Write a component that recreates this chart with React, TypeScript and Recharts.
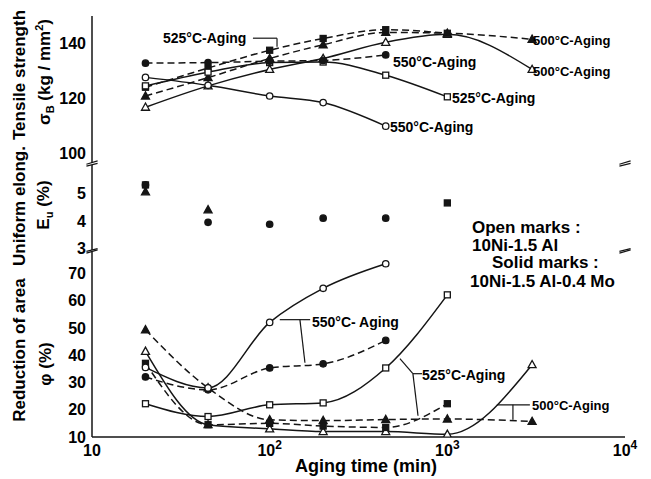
import React from "react";
import { ComposedChart, Line, XAxis, YAxis, ReferenceLine } from "recharts";

// aging time (min)
const times = [20, 45, 100, 200, 450, 1000, 3000];

// tensile strength sigma_B (kg/mm2)
const ts500Solid = [120.8, 127.5, 134.5, 139.5, 144, 143.7, 141.5];
const ts500Open = [116.7, 124.5, 130.5, 134.5, 140.4, 143.3, 130.5];
const ts525Solid = [124, 131, 137.5, 141.8, 145, 143.7, null];
const ts525Open = [124.5, 129.5, 133, 133.2, 128.4, 120.5, null];
const ts550Solid = [132.8, 133, 133.5, 133.8, 135.8, null, null];
const ts550Open = [127.6, 124.7, 120.8, 118.4, 109.8, null, null];

// uniform elongation Eu (%), solid marks only
const eu500Solid = [5.05, 4.4, null, null, null, null, null];
const eu525Solid = [5.3, null, null, null, null, 4.65, null];
const eu550Solid = [5.3, 3.95, 3.88, 4.1, 4.1, null, null];

// reduction of area (%)
const ra500Solid = [49.3, 28, 16.3, 16, 16.4, 16.6, 15.7];
const ra500Open = [41.4, 14.5, 13, 12, 12, 11, 36.5];
const ra525Solid = [37, 14.5, 15, 14, 13.5, 22.2, null];
const ra525Open = [22.2, 17.5, 21.8, 22.5, 35.3, 62.1, null];
const ra550Solid = [32, 27.3, 35.3, 36.8, 45.4, null, null];
const ra550Open = [35.5, 28, 52, 64.5, 73.5, null, null];

// ticks
const xMajor = [10, 100, 1000, 10000];
const xMinor = [20, 30, 40, 50, 60, 70, 80, 90, 200, 300, 400, 500, 600, 700, 800, 900, 2000, 3000, 4000, 5000, 6000, 7000, 8000, 9000];
const tsLabels = [100, 120, 140];
const tsTicks = [100, 110, 120, 130, 140];
const euLabels = [3, 4, 5];
const raLabels = [10, 20, 30, 40, 50, 60, 70];

const W = 651;
const H = 479;
const ink = "#151515";
const font = "'Liberation Sans', Arial, sans-serif";

const tsRows = times.map((t, i) => ({
  t, s500: ts500Solid[i], o500: ts500Open[i], s525: ts525Solid[i],
  o525: ts525Open[i], s550: ts550Solid[i], o550: ts550Open[i],
}));
const euRows = times.map((t, i) => ({
  t, s500: eu500Solid[i], s525: eu525Solid[i], s550: eu550Solid[i],
}));
const raRows = times.map((t, i) => ({
  t, s500: ra500Solid[i], o500: ra500Open[i], s525: ra525Solid[i],
  o525: ra525Open[i], s550: ra550Solid[i], o550: ra550Open[i],
}));

type Shape = "circle" | "square" | "triangle";

const series: { key: string; shape: Shape; filled: boolean }[] = [
  { key: "s500", shape: "triangle", filled: true },
  { key: "o500", shape: "triangle", filled: false },
  { key: "s525", shape: "square", filled: true },
  { key: "o525", shape: "square", filled: false },
  { key: "s550", shape: "circle", filled: true },
  { key: "o550", shape: "circle", filled: false },
];

function Mark({ cx, cy, shape, filled }: { cx: number; cy: number; shape: Shape; filled: boolean }) {
  const p = { fill: filled ? ink : "#fff", stroke: ink, strokeWidth: 1.3 };
  if (shape === "circle") return <circle cx={cx} cy={cy} r={3.2} {...p} />;
  if (shape === "square") return <rect x={cx - 3} y={cy - 3} width={6} height={6} {...p} />;
  return <polygon points={`${cx},${cy - 4.2} ${cx + 4},${cy + 3} ${cx - 4},${cy + 3}`} {...p} />;
}

const dotFor = (shape: Shape, filled: boolean) => (p: any) => {
  if (p.cx == null || p.cy == null || p.value == null) return <g key={p.index} />;
  return <Mark key={p.index} cx={p.cx} cy={p.cy} shape={shape} filled={filled} />;
};

// solid marks (Mo alloy) are joined by dashed lines, open marks by solid lines
function lines(curve: "linear" | "monotone", keys: string[], hideLine = false) {
  return series
    .filter((s) => keys.includes(s.key))
    .map((s) => (
      <Line
        key={s.key}
        dataKey={s.key}
        type={curve}
        stroke={hideLine ? "none" : ink}
        strokeWidth={1.5}
        strokeDasharray={s.filled ? "7 4" : undefined}
        dot={dotFor(s.shape, s.filled)}
        activeDot={false}
        isAnimationActive={false}
      />
    ));
}

const logX = {
  type: "number" as const,
  scale: "log" as const,
  domain: [10, 10000],
  allowDataOverflow: true,
  dataKey: "t",
};

const axisStroke = { stroke: ink, strokeWidth: 1.5 };
const tickStroke = { stroke: ink, strokeWidth: 1.2 };
const tickFont = { fill: "#000", fontSize: 16, fontWeight: "bold", fontFamily: font };

// inward minor/major ticks; height 0 so the mirrored axes do not stack
function xFrame(orientation: "top" | "bottom", withLine: boolean) {
  return [
    <XAxis key="xm" xAxisId="m" orientation={orientation} mirror height={0} ticks={xMinor} interval={0} tick={false}
      tickSize={5} axisLine={withLine ? axisStroke : false} tickLine={tickStroke} {...logX} />,
    <XAxis key="xM" xAxisId="M" orientation={orientation} mirror height={0} ticks={[100, 1000]} interval={0} tick={false}
      tickSize={9} axisLine={false} tickLine={tickStroke} {...logX} />,
  ];
}

function yFrame(domain: number[], labels: number[], ticks: number[]) {
  return [
    <YAxis key="y0" type="number" domain={domain} allowDataOverflow ticks={labels} interval={0} width={40}
      tickLine={false} tickSize={4} tickMargin={2} axisLine={axisStroke} tick={tickFont} />,
    <YAxis key="yl" yAxisId="l" type="number" domain={domain} allowDataOverflow mirror width={0} ticks={ticks}
      interval={0} tick={false} tickSize={5} axisLine={false} tickLine={tickStroke} />,
    <YAxis key="yr" yAxisId="r" orientation="right" type="number" domain={domain} allowDataOverflow mirror width={0}
      ticks={ticks} interval={0} tick={false} tickSize={5} axisLine={axisStroke} tickLine={tickStroke} />,
  ];
}

const XTick = (p: any) => {
  const v = p.payload.value;
  const exp = Math.round(Math.log10(v));
  return (
    <text x={p.x} y={p.y + 11} textAnchor="middle" fontSize={16} fontWeight="bold" fontFamily={font} fill="#000">
      10
      {exp > 1 && (
        <tspan dy={-7} fontSize={12}>
          {exp}
        </tspan>
      )}
    </text>
  );
};

function lead(a: [number, number], b: [number, number], key: string) {
  return (
    <ReferenceLine key={key} segment={[{ x: a[0], y: a[1] }, { x: b[0], y: b[1] }]}
      stroke={ink} strokeWidth={1.2} ifOverflow="visible" />
  );
}

// small axis-break strokes on both frame sides at a given value
function breakMarks(y0: number, y1: number, key: string) {
  return [
    lead([9.3, y0], [10.75, y1], key + "l"),
    lead([9300, y0], [10750, y1], key + "r"),
  ];
}

function Note({ x, y, size = 14, children }: { x: number; y: number; size?: number; children: React.ReactNode }) {
  return (
    <div style={{ position: "absolute", left: x, top: y - size / 2, fontSize: size, lineHeight: 1,
      fontWeight: "bold", whiteSpace: "nowrap", color: "#000" }}>
      {children}
    </div>
  );
}

function VTitle({ x, y, children }: { x: number; y: number; children: React.ReactNode }) {
  return (
    <div style={{ position: "absolute", left: x, top: y, transform: "translate(-50%, -50%) rotate(-90deg)",
      fontSize: 17, lineHeight: 1, fontWeight: "bold", whiteSpace: "nowrap", color: "#000" }}>
      {children}
    </div>
  );
}

const chartStyle: React.CSSProperties = { position: "absolute", left: 0, top: 0 };

export default function App() {
  return (
    <div style={{ position: "absolute", left: 0, top: 0, width: W, height: H, background: "#fff", fontFamily: font }}>
      <ComposedChart width={W} height={H} data={tsRows} style={chartStyle}
        margin={{ top: 16, right: 26, bottom: 316, left: 52 }}>
        <XAxis hide {...logX} />
        {xFrame("top", true)}
        {yFrame([96.35, 150], tsLabels, tsTicks)}
        {breakMarks(95.9, 97.1, "k1")}
        {lead([80.5, 141.9], [110, 141.9], "a1")}
        {lead([110, 141.9], [110, 138.8], "a2")}
        {lines("monotone", ["s500", "o500", "s525", "o525", "s550", "o550"])}
      </ComposedChart>

      <ComposedChart width={W} height={H} data={euRows} style={chartStyle}
        margin={{ top: 165, right: 26, bottom: 229, left: 52 }}>
        <XAxis hide {...logX} />
        {yFrame([2.95, 6.02], euLabels, euLabels)}
        {breakMarks(5.98, 6.08, "k2")}
        {breakMarks(2.9, 3.0, "k3")}
        {lines("linear", ["s500", "s525", "s550"], true)}
      </ComposedChart>

      <ComposedChart width={W} height={H} data={raRows} style={chartStyle}
        margin={{ top: 252, right: 26, bottom: 12, left: 52 }}>
        <XAxis {...logX} ticks={xMajor} interval={0} height={30} tickLine={false} axisLine={axisStroke} tick={<XTick />} />
        {xFrame("bottom", false)}
        {yFrame([10, 77.8], raLabels, raLabels)}
        {breakMarks(77.4, 78.6, "k4")}
        {lead([114, 53], [169, 53], "b1")}
        {lead([148, 53], [158, 37.2], "b2")}
        {lead([640, 33.2], [720, 33.2], "c1")}
        {lead([640, 33.2], [541, 38.7], "c2")}
        {lead([640, 33.2], [684, 17.8], "c3")}
        {lead([1900, 21.8], [2915, 21.8], "d1")}
        {lead([2340, 21.8], [2340, 16.3], "d2")}
        {lines("monotone", ["s500", "o500", "s525", "o525", "s550", "o550"])}
      </ComposedChart>

      <Note x={163} y={38}>525°C-Aging</Note>
      <Note x={533} y={40} size={13}>500°C-Aging</Note>
      <Note x={393} y={62}>550°C-Aging</Note>
      <Note x={533} y={71} size={13}>500°C-Aging</Note>
      <Note x={452} y={98}>525°C-Aging</Note>
      <Note x={390} y={127}>550°C-Aging</Note>

      <Note x={472} y={227} size={17}>Open marks :</Note>
      <Note x={472} y={245} size={17}>10Ni-1.5 Al</Note>
      <Note x={492} y={262} size={17}>Solid marks :</Note>
      <Note x={470} y={281} size={17}>10Ni-1.5 Al-0.4 Mo</Note>

      <Note x={312} y={322}>550°C- Aging</Note>
      <Note x={422} y={375}>525°C-Aging</Note>
      <Note x={532} y={405} size={13}>500°C-Aging</Note>

      <VTitle x={19} y={75}>Tensile strength</VTitle>
      <VTitle x={45} y={72}>
        σ<sub style={{ fontSize: 11 }}>B</sub> (kg / mm<sup style={{ fontSize: 11 }}>2</sup>)
      </VTitle>
      <VTitle x={19} y={206}>Uniform elong.</VTitle>
      <VTitle x={45} y={205}>
        E<sub style={{ fontSize: 11 }}>u</sub> (%)
      </VTitle>
      <VTitle x={19} y={350}>Reduction of area</VTitle>
      <VTitle x={45} y={364}>φ (%)</VTitle>

      <div style={{ position: "absolute", left: 366, top: 457, transform: "translateX(-50%)", fontSize: 18,
        fontWeight: "bold", whiteSpace: "nowrap", lineHeight: 1 }}>
        Aging time (min)
      </div>
    </div>
  );
}
